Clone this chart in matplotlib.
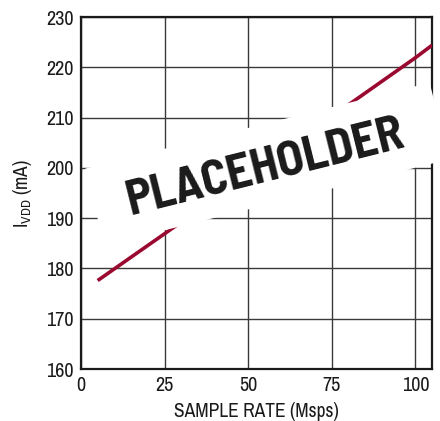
import numpy as np
import matplotlib
matplotlib.use("Agg")
import matplotlib.pyplot as plt
from matplotlib.patches import Rectangle
from matplotlib.transforms import IdentityTransform

# supply current vs sample rate
sample_rate = [5, 25, 50, 75, 100, 105]
ivdd = [177.6, 186.9, 198.6, 210.2, 221.9, 224.4]

x_ticks = [0, 25, 50, 75, 100]
y_ticks = [160, 170, 180, 190, 200, 210, 220, 230]

plt.rcParams['font.family'] = ['Archivo Narrow', 'Liberation Sans', 'DejaVu Sans']

fig = plt.figure(figsize=(4.4, 4.21), dpi=100)
ax = fig.add_axes([0.184, 0.1235, 0.798, 0.836])

ax.plot(sample_rate, ivdd, color="#9a0a30", linewidth=2.6, solid_capstyle="butt", zorder=3)

ax.set_xlim(0, 105)
ax.set_ylim(160, 230)
ax.set_xticks(x_ticks)
ax.set_yticks(y_ticks)
ax.grid(True, color="#3a3a3a", linewidth=1.0)
ax.set_axisbelow(True)
ax.tick_params(length=0, labelsize=14.5, pad=5, colors="#1a1a1a")
for s in ax.spines.values():
    s.set_linewidth(1.6)
    s.set_color("#1a1a1a")

ax.set_xlabel("SAMPLE RATE (Msps)", fontsize=14, color="#1a1a1a", labelpad=5)
ax.set_ylabel(r"I$_{\mathregular{VDD}}$ (mA)", fontsize=14, color="#1a1a1a", labelpad=9)

# the white banner over the plot (pixel coords)
banner = Rectangle((89.5, 217.5), 355, 79, angle=14, rotation_point="center",
                   transform=IdentityTransform(), facecolor="white", edgecolor="none", zorder=5)
fig.add_artist(banner)
fig.text(269, 240, "PLACEHOLDER", transform=IdentityTransform(), rotation=14,
         rotation_mode="anchor", ha="center", va="baseline", fontsize=35,
         fontweight="bold", family=["Barlow Semi Condensed", "Barlow Condensed", "DejaVu Sans"],
         color="#1a1a1a", zorder=6)

fig.savefig("out.png", dpi=100)
